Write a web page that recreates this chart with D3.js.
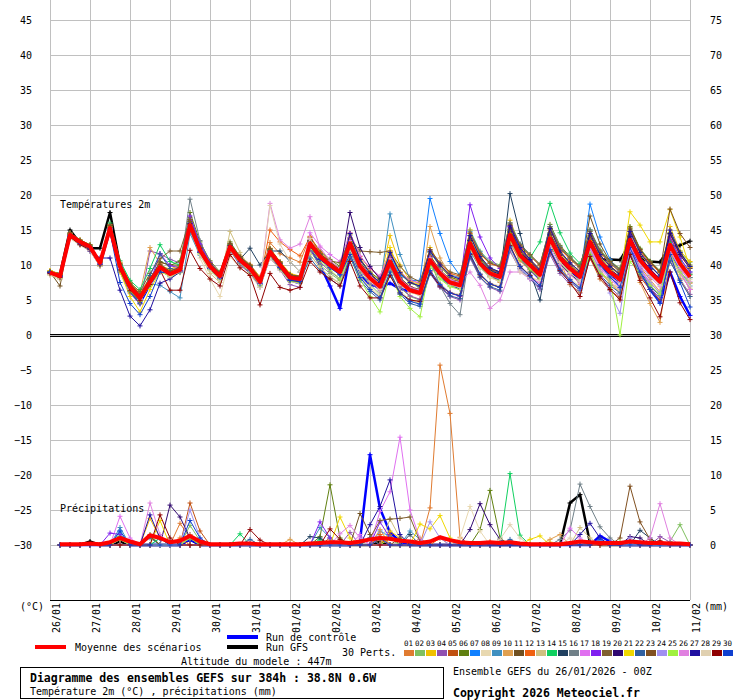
<!DOCTYPE html>
<html><head><meta charset="utf-8">
<script src="https://cdn.jsdelivr.net/npm/d3@7"></script>
<style>
body{margin:0;background:#fff}
svg{display:block}
text{font-family:"DejaVu Sans Mono",monospace;fill:#000}
</style></head><body>
<svg id="c" width="740" height="700" font-size="10"></svg>
<script>
// ---------------- DATA ----------------
const dayLabels = ["26/01","27/01","28/01","29/01","30/01","31/01","01/02","02/02","03/02","04/02","05/02","06/02","07/02","08/02","09/02","10/02","11/02"];
const leftTicks = [-30,-25,-20,-15,-10,-5,0,5,10,15,20,25,30,35,40,45];
const rightTicks = [0,5,10,15,20,25,30,35,40,45,50,55,60,65,70,75];
const stepHours = d3.range(0, 385, 6); // forecast steps every 6h

const pertColors = ["#e07b30","#80c060","#f0c000","#9050b0","#c05010","#608010","#1080ff","#e8d8b0","#4090c0","#e0a050",
  "#705020","#f06010","#d0c080","#10d060","#204060","#708088","#e070f0","#8020f0","#806030","#300870",
  "#f0d800","#3060a0","#805020","#a090f0","#a0f040","#e080e0","#2010a0","#e0d0b0","#900000","#1040d0"];

const tempMean = [8.9,8.4, 14.3,13.3,12.6,10.3, 15.3,9.8,6.9,5.3, 7.6,9.7,8.7,9.3, 15.7,12.1,9.8,8.4, 12.6,10.7,9.5,7.6, 11.9,10.0,8.2,8.0, 13.1,11.2,10.0,9.0, 13.1,9.8,8.1,6.9, 10.5,7.6,6.4,6.0, 10.7,8.8,7.5,7.1, 13.1,10.2,8.8,8.3, 14.3,11.4,10.0,8.6, 13.8,11.0,9.5,8.3, 13.3,10.5,9.0,7.9, 13.6,10.7,9.0,7.6, 12.9,10.2,8.3];
const tempCtrl = [8.8,8.3, 14.1,13.1,12.4,10.1, 15.0,9.4,6.3,4.6, 7.2,9.4,8.5,9.1, 15.4,11.8,9.6,8.1, 12.3,10.3,9.1,7.2, 11.5,9.6,7.8,7.4, 12.5,10.0,7.0,3.8, 11.5,8.6,7.2,6.8, 7.4,6.6,6.2,6.0, 10.5,8.6,7.2,6.7, 13.0,10.0,8.5,7.9, 14.0,11.0,9.4,8.0, 13.6,10.7,9.1,7.9, 13.0,10.1,8.5,7.2, 12.8,9.5,6.5,4.7, 9.0,5.5,2.8];
const tempGfs = [9.0,8.7, 15.0,13.1,12.4,12.4, 17.5,10.0,7.0,5.6, 8.0,9.8,9.0,9.5, 16.5,12.5,10.0,8.5, 12.8,10.8,9.6,7.6, 12.0,10.1,8.3,8.0, 13.2,11.2,10.0,9.0, 13.0,9.8,8.0,6.9, 10.5,7.6,6.4,6.0, 10.7,8.8,7.5,7.1, 13.0,10.2,8.8,8.3, 14.2,11.4,10.0,8.6, 13.7,11.0,9.5,8.3, 13.2,10.8,10.8,10.7, 13.0,11.0,10.5,10.4, 12.6,12.8,13.4];

const tP01 = [9.1,8.6, 14.6,13.5,12.4,10.6, 15.8,10.4,7.4,5.9, 8.2,10.1,9.2,9.8, 16.3,12.8,10.2,8.9, 13.0,11.3,10.1,8.3, 13.2,11.6,11.0,10.4, 14.1,11.9,10.6,9.5, 12.4,9.6,8.5,7.2, 11.0,8.1,6.9,6.3, 11.4,9.2,8.0,7.3, 12.6,9.9,8.4,7.5, 13.2,10.6,9.3,8.0, 13.1,10.4,8.9,7.2, 12.1,9.3,7.5,6.6, 12.0,9.8,7.9,6.2, 11.8,9.1,7.4];
const tP02 = [8.7,8.2, 14.0,13.0,12.3,9.9, 14.9,9.2,6.3,4.8, 7.2,9.6,8.9,9.8, 15.3,11.7,9.4,8.0, 12.2,10.2,9.0,7.0, 11.3,9.6,7.7,7.6, 12.0,10.0,8.8,7.8, 12.2,9.0,7.2,5.8, 9.6,6.8,5.5,5.0, 10.0,8.2,7.0,6.8, 15.0,12.0,10.5,10.0, 16.0,13.0,11.5,10.0, 15.5,12.5,11.0,9.8, 15.0,12.2,10.6,9.5, 15.2,12.4,10.6,9.2, 14.5,12.0,10.4];
const tP03 = [9.2,8.7, 14.5,13.6,12.9,10.5, 15.5,10.3,7.5,6.1, 8.0,9.9,9.4,10.0, 16.2,12.6,10.4,8.8, 12.9,11.0,10.0,8.2, 12.4,10.5,8.8,8.4, 13.4,11.6,10.5,9.4, 14.6,10.7,8.9,7.8, 14.2,10.0,7.8,6.6, 12.5,10.0,8.4,7.5, 15.0,11.4,9.3,8.9, 16.4,12.8,10.8,9.4, 15.2,11.9,10.0,8.9, 14.0,11.2,9.6,8.6, 14.5,11.6,9.8,8.4, 15.5,12.0,10.5];
const tP04 = [8.6,8.0, 14.0,12.9,12.0,9.8, 14.6,9.0,6.0,4.4, 12.0,11.6,10.8,10.3, 16.8,12.9,10.2,8.6, 12.1,10.0,8.8,6.8, 11.0,9.3,7.2,6.8, 12.2,10.4,9.1,8.0, 12.4,9.3,7.5,6.3, 9.8,6.9,5.6,5.1, 8.8,6.8,5.5,5.0, 11.0,8.2,6.8,6.2, 12.0,9.3,8.0,6.5, 11.5,8.8,7.2,6.0, 11.0,8.4,6.8,5.5, 11.3,8.5,6.8,5.2, 10.5,8.0,5.8];
const tP05 = [9.0,8.5, 14.4,13.4,12.8,10.4, 15.4,9.9,7.0,5.4, 7.7,9.8,8.8,9.4, 15.9,12.3,10.0,8.6, 12.8,10.9,9.7,7.8, 12.1,10.2,8.4,8.1, 13.3,11.4,10.2,9.2, 13.4,10.0,8.3,7.1, 10.8,7.8,6.6,6.2, 11.0,9.1,7.7,7.3, 13.4,10.5,9.1,8.5, 16.0,12.7,10.3,8.1, 12.1,9.3,7.8,6.6, 11.0,8.0,6.4,5.3, 11.5,8.3,6.5,5.0, 12.0,9.0,6.5];
const tP06 = [8.8,8.3, 14.2,13.2,12.5,10.2, 15.6,10.1,7.2,5.6, 7.9,10.5,9.9,10.6, 17.5,13.3,10.6,9.0, 13.3,11.2,9.8,7.7, 12.0,10.1,8.3,7.9, 13.9,12.0,10.8,9.8, 14.3,10.9,9.0,7.9, 11.7,8.8,7.4,7.0, 11.9,9.8,8.3,7.8, 14.2,11.0,9.5,9.0, 15.1,12.1,10.6,9.0, 15.8,12.8,11.2,9.8, 15.0,12.0,10.3,9.0, 15.5,12.3,10.5,9.0, 14.6,11.8,10.0];
const tP07 = [9.0,8.5, 14.3,13.2,12.5,10.2, 15.2,9.6,6.6,5.0, 7.4,9.5,8.6,9.2, 16.0,12.2,9.7,8.2, 12.5,10.5,9.3,7.4, 11.8,9.9,8.0,7.7, 13.0,11.0,9.8,8.8, 13.5,10.0,8.4,7.5, 11.5,8.5,7.8,7.8, 19.5,14.5,10.5,8.5, 13.5,10.8,9.3,8.8, 15.0,11.8,10.2,8.6, 14.5,11.4,9.8,8.2, 18.7,14.0,10.8,8.8, 13.4,10.4,8.5,7.2, 12.0,9.2,7.0];
const tP08 = [8.5,7.9, 13.8,12.8,12.0,9.8, 14.8,9.5,6.5,5.0, 7.3,9.2,8.3,8.9, 15.0,11.0,8.0,5.5, 11.2,9.6,8.6,6.8, 11.0,9.3,7.6,7.4, 11.5,9.6,8.4,7.4, 11.8,8.4,6.8,5.6, 9.0,6.3,5.0,4.6, 9.2,7.4,6.1,5.8, 11.6,8.8,7.4,7.0, 12.8,10.0,8.6,7.2, 12.2,9.6,8.1,6.9, 11.9,9.1,7.6,6.5, 12.2,9.3,7.6,6.2, 11.5,8.9,7.0];
const tP09 = [8.9,8.3, 14.1,13.1,12.4,10.1, 15.0,9.5,6.6,5.1, 7.3,7.1,6.2,5.3, 14.5,11.4,9.3,8.0, 12.3,10.4,9.2,7.3, 11.6,9.7,7.9,7.7, 12.9,11.0,9.8,8.8, 12.9,9.6,7.9,6.8, 17.3,11.5,8.0,6.5, 11.8,10.0,8.6,8.2, 14.8,11.9,10.3,9.8, 16.0,13.0,11.4,9.9, 15.5,12.6,11.0,9.6, 15.0,12.0,10.5,9.3, 14.8,11.8,10.0,8.5, 13.6,10.9,9.0];
const tP10 = [8.8,8.3, 14.2,13.1,12.2,10.4, 15.1,10.3,7.6,6.0, 12.5,10.2,9.0,9.5, 15.5,11.8,9.5,8.1, 12.4,10.5,9.3,7.4, 11.7,9.8,8.0,7.8, 12.9,11.0,9.8,8.8, 12.8,9.5,7.8,6.6, 10.2,7.3,6.1,5.7, 15.5,11.0,8.6,7.8, 12.8,9.9,8.5,8.0, 13.9,11.1,9.6,8.2, 13.4,10.6,7.2,6.1, 11.5,9.0,7.5,6.0, 12.0,7.5,4.5,1.8, 11.0,8.0,5.5];
const tP11 = [9.0,7.0, 14.4,13.4,12.7,10.5, 15.6,10.0,7.1,5.6, 8.0,10.4,10.0,10.0, 16.4,12.6,10.3,8.8, 13.0,11.1,9.9,7.9, 12.3,10.4,8.6,8.3, 13.6,11.7,10.4,9.4, 13.9,10.4,8.6,7.4, 11.0,8.0,6.7,6.3, 11.1,9.1,7.8,7.4, 13.5,10.6,9.1,8.6, 14.8,11.9,10.4,8.9, 14.3,11.5,10.0,8.7, 17.0,13.0,10.5,9.0, 14.0,11.2,9.4,8.0, 13.4,10.6,8.7];
const tP12 = [9.1,8.5, 14.5,13.4,12.6,10.4, 15.4,9.9,7.0,5.4, 7.8,9.9,8.9,9.5, 15.8,12.2,10.0,8.5, 12.8,10.9,9.7,7.8, 15.0,13.3,12.2,11.3, 14.0,11.8,10.2,9.0, 14.5,11.2,9.5,8.3, 12.0,9.0,7.8,7.4, 12.2,10.2,8.8,8.4, 14.5,11.6,10.2,9.7, 15.6,12.7,11.3,9.9, 15.0,12.3,10.8,9.6, 14.5,11.8,10.2,9.1, 14.8,12.0,10.2,8.9, 14.0,11.4,9.6];
const tP13 = [8.7,8.1, 14.1,13.0,12.3,10.0, 15.0,9.6,6.7,5.2, 7.5,9.5,8.5,9.1, 15.4,11.5,8.8,7.5, 14.8,11.8,9.6,7.2, 11.5,9.5,7.7,7.4, 11.5,9.6,8.3,7.3, 11.5,8.3,6.6,5.4, 9.0,6.1,4.9,4.5, 9.2,7.3,6.0,5.6, 11.4,8.6,7.2,6.8, 12.6,9.8,8.4,7.0, 12.0,9.4,7.9,6.7, 11.6,8.9,7.4,6.3, 11.9,9.1,7.4,6.0, 11.2,8.6,6.7];
const tP14 = [9.0,8.5, 14.5,13.5,12.8,10.6, 16.0,10.6,7.8,6.5, 9.5,12.9,10.5,10.0, 16.2,12.5,10.1,8.6, 12.9,11.0,9.8,7.9, 12.2,10.3,8.5,8.2, 13.4,11.5,10.3,9.3, 13.5,10.1,8.4,7.2, 10.8,7.9,6.7,6.3, 11.0,9.1,7.8,7.4, 13.4,10.5,9.1,8.6, 14.6,11.7,11.0,13.3, 18.8,14.6,11.7,10.2, 13.6,10.8,9.3,8.2, 13.9,11.0,9.3,7.9, 13.2,10.5,8.6];
const tP15 = [8.9,8.4, 14.3,13.3,12.6,10.3, 15.3,9.8,6.9,5.3, 7.6,9.7,8.7,9.3, 15.6,12.0,9.7,8.3, 12.6,10.8,12.4,10.0, 12.0,12.0,10.5,9.0, 13.5,11.3,9.9,8.9, 13.0,9.7,8.0,6.8, 10.4,7.5,6.3,5.9, 10.6,8.7,7.4,7.0, 13.0,10.1,8.7,8.2, 20.2,14.5,9.0,5.0, 13.0,10.2,8.7,7.6, 13.2,10.4,8.9,7.8, 13.5,10.6,8.9,7.5, 12.8,10.1,8.2];
const tP16 = [9.0,8.4, 14.4,13.4,12.7,10.4, 15.4,9.9,7.0,5.4, 7.7,9.8,8.8,9.4, 19.4,13.5,10.2,8.6, 12.7,10.8,9.6,7.7, 12.0,10.1,8.3,8.1, 13.2,11.3,10.1,9.1, 13.2,9.9,8.2,7.0, 10.6,7.7,6.5,6.1, 10.8,7.0,4.5,2.9, 12.0,9.6,8.4,7.9, 14.2,11.3,9.9,8.5, 15.5,12.6,11.0,9.8, 14.8,11.9,10.3,9.2, 13.5,10.6,8.9,7.5, 12.8,10.1,8.2];
const tP17 = [8.8,8.2, 14.2,13.2,12.4,10.1, 15.1,9.6,6.7,5.1, 7.4,9.4,8.5,9.1, 15.5,11.9,9.6,8.2, 12.4,10.5,9.3,7.4, 11.7,9.8,8.0,7.8, 14.6,12.7,11.5,10.5, 14.6,11.3,9.6,8.4, 12.0,9.0,7.8,7.4, 9.0,7.0,6.0,5.5, 12.9,10.0,8.6,8.1, 14.1,11.2,9.8,8.4, 13.6,10.8,9.3,8.1, 12.5,9.6,8.0,6.7, 12.0,9.4,7.2,5.5, 11.5,9.0,6.5];
const tP18 = [8.9,8.4, 14.4,13.3,12.5,10.2, 15.2,9.7,6.8,5.2, 7.5,11.6,9.9,9.6, 17.0,13.0,10.4,8.8, 12.7,10.8,9.6,7.7, 12.0,10.1,8.3,8.1, 13.2,11.3,10.1,9.1, 13.2,9.9,8.2,7.0, 10.6,7.7,6.5,6.1, 10.8,8.9,7.6,7.2, 18.6,14.0,11.0,9.5, 15.5,12.3,10.7,9.1, 14.3,11.3,9.8,8.4, 13.6,10.8,9.2,8.0, 14.3,11.2,9.5,8.0, 14.0,11.0,9.0];
const tP19 = [9.0,8.5, 14.4,13.3,12.6,10.4, 15.3,10.0,7.4,6.2, 8.8,10.9,12.0,12.0, 16.5,12.5,10.2,8.8, 13.1,11.2,10.0,8.1, 12.3,10.4,8.6,8.3, 13.4,11.5,10.6,10.3, 13.8,12.0,11.9,11.8, 12.0,9.8,8.3,7.6, 12.2,10.3,9.0,8.6, 14.6,11.7,10.3,9.8, 15.8,12.9,11.5,10.1, 15.3,12.5,11.0,9.8, 14.8,12.0,10.5,9.4, 15.1,12.2,10.5,9.1, 14.4,11.7,9.8];
const tP20 = [8.9,8.3, 14.3,13.2,12.5,10.2, 15.2,9.6,6.6,5.0, 7.3,9.4,8.4,9.0, 15.9,12.3,10.0,8.6, 12.8,10.9,9.7,7.8, 12.1,10.2,8.4,8.2, 13.3,11.4,10.2,9.2, 17.5,12.5,9.8,8.0, 11.0,8.0,6.8,6.4, 11.2,9.2,7.9,7.5, 13.5,10.6,9.2,8.7, 15.3,12.0,10.3,8.9, 14.3,11.4,9.8,8.6, 13.8,11.0,9.4,8.3, 14.1,11.2,9.4,8.0, 14.5,11.5,9.5];
const tP21 = [9.2,8.6, 14.4,13.3,12.4,10.0, 15.0,9.0,5.5,3.3, 6.5,9.0,8.5,9.4, 15.5,12.0,9.8,8.4, 12.6,10.7,9.5,7.6, 12.0,10.1,8.3,8.1, 13.2,11.3,10.1,9.1, 13.3,10.0,8.3,7.1, 12.5,9.0,7.6,7.2, 10.9,9.0,7.7,7.3, 13.3,10.4,9.0,8.5, 14.5,11.6,10.2,8.8, 14.0,11.2,9.7,8.5, 13.5,10.7,9.2,8.1, 17.6,15.7,13.3,13.3, 17.9,14.0,9.6];
const tP22 = [8.8,8.3, 14.2,13.2,12.5,10.2, 15.1,9.4,6.2,4.5, 8.5,11.6,9.5,9.2, 15.4,11.8,9.5,8.1, 12.3,10.4,9.2,7.3, 11.6,9.7,7.9,7.7, 11.0,9.2,8.0,7.0, 11.2,7.8,6.2,5.0, 8.6,5.8,4.5,4.1, 8.8,7.0,5.6,5.2, 11.2,8.3,6.9,6.4, 12.4,9.5,8.1,6.7, 11.9,9.1,7.6,6.4, 11.4,8.6,7.1,6.0, 11.6,8.7,7.0,5.6, 10.6,7.8,5.5];
const tP23 = [9.1,8.6, 14.6,13.6,12.9,10.6, 15.7,10.2,7.3,5.8, 8.1,10.1,9.1,9.7, 16.2,12.5,10.2,8.8, 13.0,11.1,9.9,8.0, 12.3,10.4,8.6,8.4, 13.5,11.6,10.4,9.4, 13.6,10.3,8.6,7.4, 11.1,8.2,6.9,6.5, 11.3,9.3,8.0,7.6, 13.7,10.8,9.4,8.9, 15.0,12.1,10.6,9.2, 14.6,11.8,10.3,9.1, 14.2,11.4,9.9,8.7, 15.3,12.2,10.4,9.0, 18.0,14.5,12.5];
const tP24 = [8.8,8.2, 14.1,13.1,12.4,10.1, 15.0,9.5,6.6,5.1, 7.4,9.5,8.6,9.2, 15.4,11.9,9.6,8.3, 12.4,10.5,9.3,7.4, 11.7,9.8,8.0,7.8, 12.9,11.0,9.8,8.8, 12.9,9.6,7.9,6.7, 10.3,7.4,6.2,5.8, 10.5,8.6,7.3,6.9, 12.9,10.0,8.6,8.1, 12.5,9.6,8.2,6.8, 12.0,9.2,7.7,6.5, 12.4,9.0,6.0,3.1, 12.4,9.6,7.5,6.0, 12.6,9.7,7.5];
const tP25 = [8.7,8.1, 14.0,13.0,12.2,9.9, 14.8,9.3,6.3,4.8, 7.1,9.2,8.3,8.9, 15.1,11.6,9.3,7.9, 12.1,10.2,9.0,7.1, 11.4,9.5,7.7,7.5, 12.5,10.6,9.3,8.0, 11.5,8.0,5.5,3.3, 9.0,5.5,3.8,2.6, 9.8,8.0,6.9,6.5, 12.4,9.6,8.2,7.7, 13.6,10.8,9.4,8.0, 13.0,10.4,8.9,7.7, 11.5,8.8,8.0,0.0, 10.5,8.8,7.1,5.8, 11.5,9.0,7.5];
const tP26 = [8.8,8.3, 14.2,13.2,12.5,10.2, 15.2,9.7,6.8,5.2, 7.5,9.6,8.6,9.2, 15.6,12.0,9.7,8.3, 12.5,10.6,9.4,7.5, 18.8,13.6,12.4,13.0, 16.9,12.5,10.6,9.5, 13.5,10.2,8.5,7.3, 10.9,8.0,6.8,6.4, 11.1,9.2,7.9,7.5, 9.0,7.1,3.8,5.0, 9.0,9.0,8.0,7.5, 12.5,10.0,8.6,7.4, 12.5,9.8,8.3,7.2, 12.8,10.0,8.3,6.9, 12.0,9.5,7.6];
const tP27 = [8.9,8.4, 14.1,13.0,12.0,11.0, 11.0,6.4,2.7,1.3, 3.6,7.4,8.0,9.0, 15.0,11.8,9.5,8.1, 12.2,10.3,9.1,7.2, 11.5,9.6,7.8,7.6, 12.7,10.8,9.6,8.6, 14.5,10.8,8.8,7.5, 11.8,8.9,7.5,7.0, 12.0,10.0,8.5,8.0, 14.2,11.2,9.6,9.0, 15.6,12.5,10.8,9.3, 15.2,12.0,10.3,9.0, 14.5,11.5,9.8,8.6, 14.8,11.8,9.9,8.4, 15.0,11.8,9.8];
const tP28 = [8.6,8.0, 13.8,12.9,12.1,9.9, 14.8,9.4,6.5,5.0, 7.3,9.3,8.4,9.0, 15.2,11.5,9.2,7.8, 12.2,10.3,9.1,7.2, 18.5,13.0,10.5,9.0, 13.8,11.2,9.8,8.7, 12.7,9.4,7.7,6.5, 10.2,7.3,6.1,5.7, 10.4,8.5,7.2,6.8, 12.5,9.6,8.2,7.6, 12.5,9.0,8.2,7.8, 13.2,10.4,8.9,7.7, 12.8,9.9,8.4,7.3, 13.2,10.3,8.6,7.1, 12.4,9.8,7.9];
const tP29 = [8.8,8.2, 14.0,12.9,12.2,10.0, 14.8,9.3,6.4,4.9, 7.2,9.3,6.4,6.4, 12.1,9.5,8.0,7.0, 11.5,9.6,8.5,4.3, 8.8,6.8,6.4,6.8, 10.5,9.0,8.0,7.0, 10.5,7.0,5.3,5.3, 8.5,6.0,5.0,4.8, 9.0,7.0,6.0,5.6, 11.5,8.6,7.3,6.8, 12.8,9.8,8.5,7.0, 12.0,9.2,7.5,5.5, 11.2,8.4,6.5,5.0, 11.5,7.8,5.3,2.6, 9.0,4.6,2.2];
const tP30 = [9.0,8.5, 14.2,13.1,12.3,10.1, 14.8,7.5,4.5,2.9, 5.5,9.0,8.8,9.2, 15.5,11.9,9.6,8.2, 12.4,10.5,9.3,7.4, 11.6,9.7,7.9,7.7, 12.8,10.9,9.7,8.6, 11.5,8.2,6.5,5.3, 9.0,6.0,4.8,4.4, 9.2,7.2,6.0,5.6, 11.6,8.7,7.3,6.8, 12.6,9.8,8.4,7.0, 12.2,9.4,7.9,6.7, 12.9,10.0,8.3,6.8, 12.5,9.0,6.5,4.5, 11.5,7.5,4.0];
const tempPerts = [tP01,tP02,tP03,tP04,tP05,tP06,tP07,tP08,tP09,tP10,tP11,tP12,tP13,tP14,tP15,tP16,tP17,tP18,tP19,tP20,tP21,tP22,tP23,tP24,tP25,tP26,tP27,tP28,tP29,tP30];

// Precipitation (mm per 6h), first value at step 1; given as [step, mm], other steps are 0
const precipMean = [0,0.1,0.1,0.1,0.2,0.1, 0.4,1.0,0.5,0.1, 1.4,1.0,0.4,0.6, 1.3,0.5,0.1,0.1, 0.1,0.2,0.2,0.1, 0.1,0.1,0.1,0.1, 0.2,0.3,0.4,0.4, 0.3,0.5,0.8,1.0, 0.9,0.6,0.5,0.3, 0.5,1.1,0.7,0.4, 0.3,0.3,0.4,0.3, 0.4,0.2,0.1,0.1, 0.1,0.1,0.3,0.5, 0.4,0.3,0.3,0.3, 0.5,0.4,0.3,0.3, 0.2,0.2,0.1];
const pCtrl = [[7,1.0],[14,0.8],[31,0.6],[32,12.9],[33,5.2],[34,1.8],[35,0.5],[55,1.3],[56,0.5]];
const pGfs = [[4,0.5],[7,0.5],[14,0.8],[33,0.5],[52,6.0],[53,7.2],[54,0.3]];
const pP01 = [[7,0.8],[13,3.1],[14,1.0],[33,0.8],[38,5.3],[39,25.7],[40,18.8],[41,1.1],[44,0.5]];
const pP02 = [[7,1.0],[14,2.8],[15,0.6],[34,1.0],[62,0.5],[63,2.9]];
const pP03 = [[7,1.2],[10,3.8],[11,1.0],[34,2.0],[35,1.0],[50,0.4]];
const pP04 = [[7,0.8],[14,1.5],[30,1.8],[33,1.0],[61,1.2],[62,0.4]];
const pP05 = [[7,1.0],[14,6.0],[15,2.0],[28,1.0],[34,1.5]];
const pP06 = [[10,1.5],[27,1.2],[28,8.6],[29,1.0],[43,2.2],[44,7.8],[45,1.0]];
const pP07 = [[7,2.0],[11,1.0],[33,2.0],[34,1.2],[54,0.5]];
const pP08 = [[14,1.0],[33,1.5],[41,1.0],[42,5.5],[43,2.0]];
const pP09 = [[7,2.5],[10,1.0],[27,2.5],[28,1.0],[36,2.0],[37,0.8]];
const pP10 = [[14,1.5],[24,0.8],[33,2.2],[37,1.0],[50,0.8],[51,1.5]];
const pP11 = [[10,1.2],[31,4.5],[32,1.5],[34,1.0]];
const pP12 = [[7,1.2],[13,1.0],[33,1.5],[39,1.0]];
const pP13 = [[14,1.2],[34,3.7],[35,1.0],[53,2.5],[54,1.0]];
const pP14 = [[7,1.5],[11,1.0],[19,1.6],[27,0.8],[45,0.3],[46,10.2],[47,1.4]];
const pP15 = [[26,1.2],[27,1.0],[36,1.5],[59,2.1],[60,1.0]];
const pP16 = [[14,1.0],[51,0.8],[52,2.1],[53,8.7],[54,5.5],[55,2.6],[56,1.0]];
const pP17 = [[7,4.1],[8,1.0],[31,1.5],[33,4.8],[34,7.6],[35,15.4],[36,5.0],[37,0.8],[52,2.4],[53,1.0]];
const pP18 = [[6,1.7],[7,1.5],[27,3.3],[28,1.0],[33,3.3],[34,1.0]];
const pP19 = [[32,1.0],[33,3.5],[34,3.7],[35,3.8],[36,4.0],[37,0.5]];
const pP20 = [[12,5.7],[13,4.0],[14,1.0],[42,2.2],[43,5.9],[44,2.9],[45,0.8],[58,1.2],[59,1.0]];
const pP21 = [[11,3.5],[29,4.0],[30,1.0],[37,3.0],[38,2.3],[39,4.2],[40,1.0],[48,0.8],[49,1.3]];
const pP22 = [[20,0.8],[32,1.0],[46,0.8]];
const pP23 = [[35,1.0],[57,1.0],[58,8.4],[59,3.3],[60,0.8]];
const pP24 = [[14,5.0],[15,1.0],[38,3.3],[39,1.0],[56,0.5],[58,1.0]];
const pP25 = [[7,0.8],[14,1.0],[34,1.0],[57,0.5]];
const pP26 = [[10,6.0],[11,1.5],[29,1.6],[30,2.8],[31,1.0],[60,1.0],[61,5.9],[62,1.0]];
const pP27 = [[10,4.3],[11,1.0],[32,2.9],[33,5.5],[34,9.3],[35,1.5],[53,1.5],[54,3.1],[55,1.0]];
const pP28 = [[33,1.0],[45,0.8],[46,2.9],[47,1.0],[52,1.0]];
const pP29 = [[11,4.3],[12,1.0],[20,2.2],[21,0.7],[28,2.3],[29,0.8],[58,0.5],[61,0.6]];
const pP30 = [[7,2.0],[14,3.5],[15,1.0],[33,1.0],[55,0.8]];
const precipPerts = [pP01,pP02,pP03,pP04,pP05,pP06,pP07,pP08,pP09,pP10,pP11,pP12,pP13,pP14,pP15,pP16,pP17,pP18,pP19,pP20,pP21,pP22,pP23,pP24,pP25,pP26,pP27,pP28,pP29,pP30];

// ---------------- DRAW ----------------
const svg = d3.select("#c");
const X0 = 50, X1 = 690;
const x = d3.scaleLinear().domain([0, 384]).range([X0, X1]);
const xd = d3.scaleLinear().domain([0, 16]).range([X0, X1]);
const yT = d3.scaleLinear().domain([-30, 45]).range([545, 20]);
const yP = d3.scaleLinear().domain([0, 75]).range([545, 20]);
const FONT = '"DejaVu Sans Mono", monospace';

// grid (horizontal)
const gh = svg.append("g").attr("transform", `translate(${X0},0)`)
  .call(d3.axisLeft(yT).tickValues(leftTicks).tickSize(-(X1 - X0)).tickFormat(""));
gh.select(".domain").remove();
gh.selectAll("line").attr("stroke", "#c0c0c0").attr("shape-rendering", "crispEdges");
// grid (vertical)
const gv = svg.append("g").attr("transform", `translate(0,600)`)
  .call(d3.axisBottom(xd).tickValues(d3.range(0, 17)).tickSize(-600).tickFormat(""));
gv.select(".domain").remove();
gv.selectAll("line").attr("stroke", "#c0c0c0").attr("shape-rendering", "crispEdges");

// left / right tick labels
const al = svg.append("g").attr("transform", `translate(${X0},0)`)
  .call(d3.axisLeft(yT).tickValues(leftTicks).tickSize(0).tickPadding(18));
al.select(".domain").remove();
al.selectAll("text").style("font-family", FONT).style("font-size", "10px").attr("fill", "#000");
const ar = svg.append("g").attr("transform", `translate(${X1},0)`)
  .call(d3.axisRight(yP).tickValues(rightTicks).tickSize(0).tickPadding(20));
ar.select(".domain").remove();
ar.selectAll("text").style("font-family", FONT).style("font-size", "10px").attr("fill", "#000");

// double line at 0°C
[yT(0) - 0.5, yT(0) + 1.5].forEach(yy => {
  svg.append("line").attr("x1", X0).attr("x2", X1).attr("y1", yy).attr("y2", yy)
    .attr("stroke", "#000").attr("stroke-width", 1).attr("shape-rendering", "crispEdges");
});
// bottom axis line
svg.append("line").attr("x1", X0).attr("x2", X1).attr("y1", 600.5).attr("y2", 600.5)
  .attr("stroke", "#000").attr("stroke-width", 1);

// date labels (rotated)
svg.append("g").selectAll("text").data(dayLabels).join("text")
  .attr("transform", (d, i) => `translate(${xd(i) + 10},603) rotate(-90)`)
  .attr("text-anchor", "end").text(d => d);
svg.append("text").attr("x", 20).attr("y", 610).text("(°C)");
svg.append("text").attr("x", 704).attr("y", 610).text("(mm)");

// section titles
svg.append("text").attr("x", 60).attr("y", 208).text("Températures 2m");
svg.append("text").attr("x", 60).attr("y", 512).text("Précipitations");

// series helpers
function plusPath(pts) {
  return pts.map(p => `M${p[0] - 2.5},${p[1]}h5M${p[0]},${p[1] - 2.5}v5`).join("");
}
function drawSeries(g, pts, color, width, markers) {
  g.append("path").attr("d", d3.line()(pts)).attr("fill", "none")
    .attr("stroke", color).attr("stroke-width", width).attr("stroke-linejoin", "round");
  if (markers) g.append("path").attr("d", plusPath(pts)).attr("stroke", color).attr("stroke-width", 1).attr("fill", "none");
}
const tempPts = arr => arr.map((v, i) => [x(stepHours[i]), yT(v)]);
function precipFull(sparse) {
  const m = new Map(sparse);
  return d3.range(1, 65).map(i => [i, m.has(i) ? m.get(i) : 0]);
}
const precipPts = pairs => pairs.map(([i, v]) => [x(stepHours[i]), yP(v)]);

const gT = svg.append("g");
drawSeries(gT, tempPts(tempGfs), "#000", 2.5, true);
drawSeries(gT, tempPts(tempCtrl), "#0000ff", 2.5, true);
tempPerts.forEach((arr, k) => drawSeries(gT, tempPts(arr), pertColors[k], 1, true));
drawSeries(gT, tempPts(tempMean), "#ff0000", 4, false);

const gP = svg.append("g");
drawSeries(gP, precipPts(precipFull(pGfs)), "#000", 2.5, true);
drawSeries(gP, precipPts(precipFull(pCtrl)), "#0000ff", 2.5, true);
precipPerts.forEach((sp, k) => drawSeries(gP, precipPts(precipFull(sp)), pertColors[k], 1, true));
drawSeries(gP, precipPts(precipMean.map((v, i) => [i, v]).slice(1)), "#ff0000", 4, false);

// ---------------- LEGEND ----------------
svg.append("rect").attr("x", 35).attr("y", 645).attr("width", 31).attr("height", 4).attr("fill", "#ff0000");
svg.append("text").attr("x", 75).attr("y", 651).text("Moyenne des scénarios");
svg.append("rect").attr("x", 227).attr("y", 635).attr("width", 31).attr("height", 4).attr("fill", "#0000ff");
svg.append("text").attr("x", 266).attr("y", 641).text("Run de contrôle");
svg.append("rect").attr("x", 227).attr("y", 645).attr("width", 31).attr("height", 4).attr("fill", "#000");
svg.append("text").attr("x", 266).attr("y", 651).text("Run GFS");
svg.append("text").attr("x", 342).attr("y", 656).text("30 Perts.");
const lg = svg.append("g");
pertColors.forEach((c, k) => {
  lg.append("text").attr("x", 404 + k * 11).attr("y", 646).style("font-size", "7.5px")
    .text(String(k + 1).padStart(2, "0"));
  lg.append("rect").attr("x", 404 + k * 11).attr("y", 650).attr("width", 10).attr("height", 6).attr("fill", c);
});
svg.append("text").attr("x", 181).attr("y", 665).text("Altitude du modele : 447m");

svg.append("rect").attr("x", 20.5).attr("y", 667.5).attr("width", 423).attr("height", 31)
  .attr("fill", "none").attr("stroke", "#000");
svg.append("text").attr("x", 30).attr("y", 682).style("font-size", "11.5px").style("font-weight", "bold")
  .text("Diagramme des ensembles GEFS sur 384h : 38.8N 0.6W");
svg.append("text").attr("x", 30).attr("y", 695).text("Température 2m (°C) , précipitations (mm)");
svg.append("text").attr("x", 453).attr("y", 675).text("Ensemble GEFS du 26/01/2026 - 00Z");
svg.append("text").attr("x", 453).attr("y", 697).style("font-size", "11.5px").style("font-weight", "bold")
  .text("Copyright 2026 Meteociel.fr");
</script></body></html>
